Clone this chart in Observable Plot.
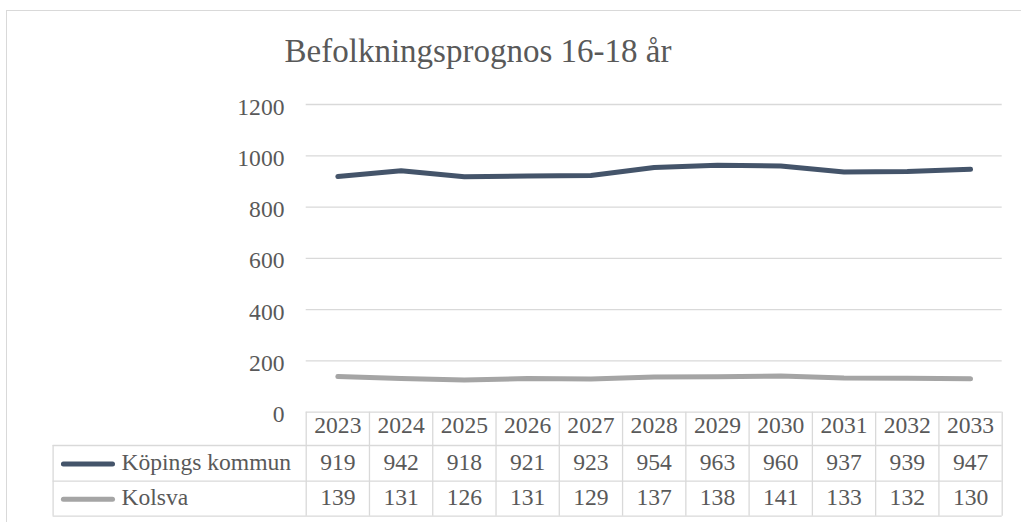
<!DOCTYPE html>
<html>
<head>
<meta charset="utf-8">
<script src="https://cdn.jsdelivr.net/npm/d3@7"></script>
<script src="https://cdn.jsdelivr.net/npm/@observablehq/plot@0.6"></script>
<style>
  html, body { margin: 0; padding: 0; background: #fff; overflow: hidden; }
  #wrap { position: relative; width: 1021px; height: 522px; }
  #border { position: absolute; left: 6px; top: 10px; width: 1100px; height: 600px;
            border: 1.3px solid #d9d9d9; box-sizing: border-box; }
  #chart { position: absolute; left: 0; top: 0; }
  #chart svg, #chart svg text { font-family: "Liberation Serif", "Times New Roman", serif !important; }
</style>
</head>
<body>
<div id="wrap"><div id="border"></div><div id="chart"></div></div>
<script>
const title = "Befolkningsprognos 16-18 år";
const years = [2023, 2024, 2025, 2026, 2027, 2028, 2029, 2030, 2031, 2032, 2033];
const seriesNames = ["Köpings kommun", "Kolsva"];
const kopings = [919, 942, 918, 921, 923, 954, 963, 960, 937, 939, 947];
const kolsva = [139, 131, 126, 131, 129, 137, 138, 141, 133, 132, 130];
const seriesColors = ["#44546A", "#A5A5A5"];
const yTicks = [0, 200, 400, 600, 800, 1000, 1200];

const seriesValues = [kopings, kolsva];
const rows = seriesNames.flatMap((name, s) =>
  years.map((year, i) => ({ year, series: name, value: seriesValues[s][i] })));

// layout
const W = 1021, H = 522;
const mTop = 104, mBottom = 110.3, mLeft = 305.7, mRight = 19.3;
const FH = H - mTop - mBottom;
const xLeft = years[0] - 0.5, xRight = years[years.length - 1] + 0.5;
const tableLeft = xLeft - 4;            // label column is four year-columns wide
const rowBottoms = [33.3, 69, 104];     // pixel offsets below y = 0
const rowCenters = [13.5, 51.3, 86.5];
const gridColor = "#d9d9d9";
const textColor = "#595959";
const FS = 23.6;

const boundaries = [...years.map(y => y - 0.5), xRight];

const marks = [
  Plot.ruleY(yTicks, { stroke: gridColor, strokeWidth: 1.3 }),
  Plot.axisY(yTicks, { tickSize: 0, tickPadding: 21.7, fontSize: FS, fill: textColor, dy: 2.5,
                       label: null, tickFormat: d => String(d) }),
  Plot.line(rows, { x: "year", y: "value", z: "series", stroke: "series", strokeWidth: 5,
                    strokeLinecap: "round", strokeLinejoin: "round" }),
  // title
  Plot.text([title], { frameAnchor: "top-left", lineAnchor: "middle", dx: 477.5 - mLeft, dy: -53, fontSize: 33,
                       textAnchor: "middle", fill: textColor }),
  // table grid: horizontal lines
  ...rowBottoms.map(off => Plot.ruleY([0], { x1: tableLeft, x2: xRight, dy: off, stroke: gridColor, strokeWidth: 1.3 })),
  // vertical lines for year columns
  Plot.ruleX(boundaries, { insetTop: FH - rowBottoms[2], dy: rowBottoms[2], stroke: gridColor, strokeWidth: 1.3 }),
  // label column left border
  Plot.ruleX([tableLeft], { insetTop: FH - (rowBottoms[2] - rowBottoms[0]), dy: rowBottoms[2], stroke: gridColor, strokeWidth: 1.3 }),
  // header years
  Plot.text(years, { x: d => d, text: d => String(d), frameAnchor: "bottom", lineAnchor: "middle", dy: rowCenters[0],
                     fontSize: FS, fill: textColor }),
  // series rows
  ...seriesNames.flatMap((name, s) => [
    Plot.ruleY([0], { x1: tableLeft, x2: xLeft, insetLeft: 10.8, insetRight: 193.2, dy: rowCenters[s + 1] + 0.5,
                      stroke: seriesColors[s], strokeWidth: 5, strokeLinecap: "round" }),
    Plot.text([name], { x: tableLeft, frameAnchor: "bottom", lineAnchor: "middle", textAnchor: "start", dx: 68.3,
                        dy: rowCenters[s + 1] - 1, fontSize: FS, fill: textColor }),
    Plot.text(rows.filter(r => r.series === name), { x: "year", text: d => String(d.value), frameAnchor: "bottom",
                        lineAnchor: "middle", dy: rowCenters[s + 1] - 1, fontSize: FS, fill: textColor })
  ])
];

const chart = Plot.plot({
  width: W, height: H,
  marginTop: mTop, marginBottom: mBottom, marginLeft: mLeft, marginRight: mRight,
  style: { fontFamily: "'Liberation Serif', 'Times New Roman', serif", background: "transparent", overflow: "visible" },
  x: { type: "linear", domain: [xLeft, xRight], axis: null },
  y: { domain: [0, 1200], axis: null },
  color: { domain: seriesNames, range: seriesColors },
  marks
});
document.getElementById("chart").appendChild(chart);
</script>
</body>
</html>
